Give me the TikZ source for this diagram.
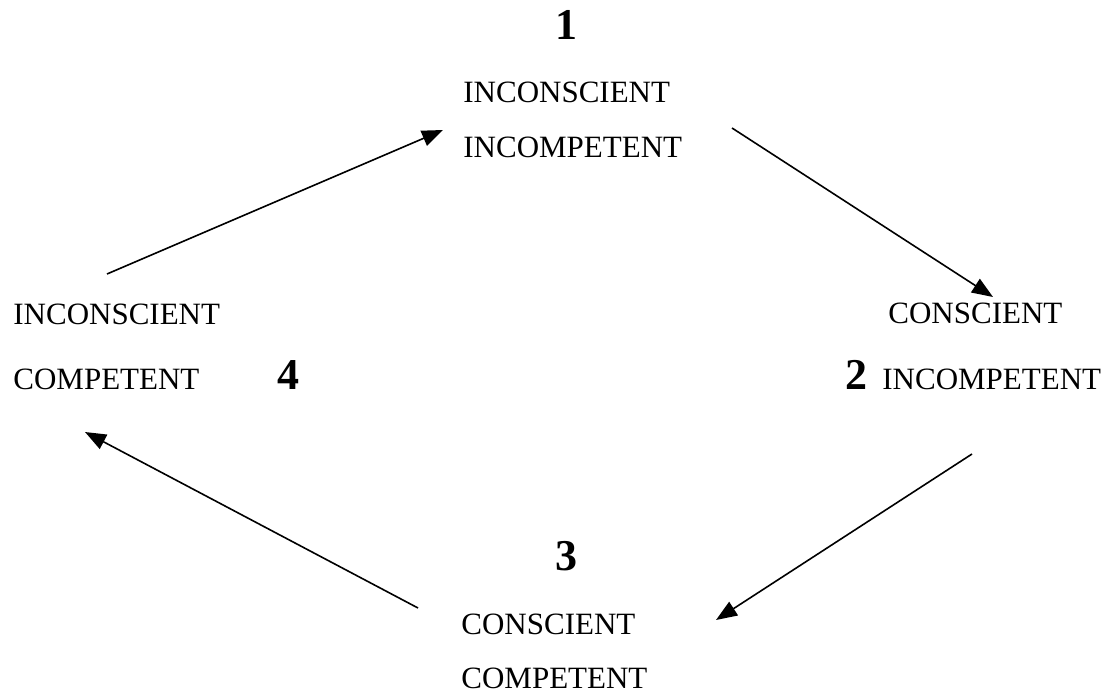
\documentclass[tikz,border=0pt]{standalone}
\usepackage{fontspec}
\setmainfont{Liberation Serif}
\usetikzlibrary{arrows.meta}
\tikzset{
  stage/.style={anchor=base west, inner sep=0pt, font=\fontsize{15.5}{18}\selectfont},
  num/.style={anchor=base, inner sep=0pt, font=\fontsize{22}{26}\selectfont\bfseries},
  cycle/.style={line width=0.8pt, -{Triangle[length=10.5pt,width=8pt]}}
}
\begin{document}
\begin{tikzpicture}[x=0.5pt, y=-0.5pt]
        % 全体の枠
        \useasboundingbox (0,0) rectangle (1112,695);
        % 段階1
        \node[num] (n1) at (566,40) {1};
        \node[stage] (t1a) at (463,103) {INCONSCIENT};
        \node[stage] (t1b) at (463,158) {INCOMPETENT};
        % 段階2
        \node[num, anchor=base west] (n2) at (845,389) {2};
        \node[stage] (t2a) at (888,323) {CONSCIENT};
        \node[stage] (t2b) at (882,389) {INCOMPETENT};
        % 段階3
        \node[num] (n3) at (566,570) {3};
        \node[stage] (t3a) at (461,634) {CONSCIENT};
        \node[stage] (t3b) at (461,688) {COMPETENT};
        % 段階4
        \node[num, anchor=base west] (n4) at (277,389) {4};
        \node[stage] (t4a) at (13,324) {INCONSCIENT};
        \node[stage] (t4b) at (13,389) {COMPETENT};
        % 矢印の端点
        \coordinate (p1) at (107,274);
        \coordinate (q1) at (443,130);
        \coordinate (p2) at (732,128);
        \coordinate (q2) at (993,297);
        \coordinate (p3) at (972,454);
        \coordinate (q3) at (716,620);
        \coordinate (p4) at (418,608);
        \coordinate (q4) at (85,432);
        % 矢印
        \draw[cycle] (p1) -- (q1);
        \draw[cycle] (p2) -- (q2);
        \draw[cycle] (p3) -- (q3);
        \draw[cycle] (p4) -- (q4);
      \end{tikzpicture}
\end{document}
